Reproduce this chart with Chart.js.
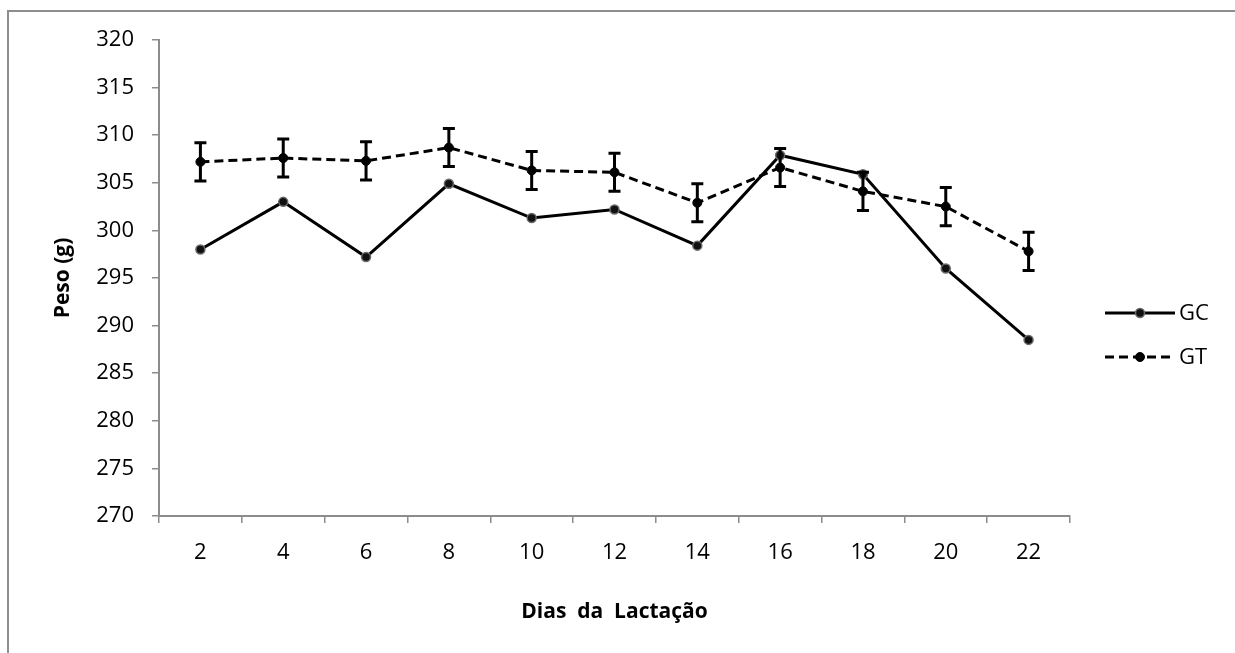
<!DOCTYPE html>
<html>
<head>
<meta charset="utf-8">
<script src="https://cdn.jsdelivr.net/npm/chart.js@4/dist/chart.umd.min.js"></script>
<style>
  html, body { margin: 0; padding: 0; background: #fff; }
  #wrap { width: 1235px; height: 653px; position: relative; }
</style>
</head>
<body>
<div id="wrap"><canvas id="chart" width="1235" height="653"></canvas></div>
<script>
// Dados do gráfico
const dias = ['2', '4', '6', '8', '10', '12', '14', '16', '18', '20', '22'];
const pesoGC = [298.0, 303.0, 297.2, 304.9, 301.3, 302.2, 298.4, 307.9, 305.9, 296.0, 288.5];
const pesoGT = [307.2, 307.6, 307.3, 308.7, 306.3, 306.1, 302.9, 306.6, 304.1, 302.5, 297.8];
const erroGT = [2.0, 2.0, 2.0, 2.0, 2.0, 2.0, 2.0, 2.0, 2.0, 2.0, 2.0];
const yTicks = [270, 275, 280, 285, 290, 295, 300, 305, 310, 315, 320];

const fonte = "'Open Sans', 'Noto Sans', sans-serif";
const cinzaEixo = '#8c8c8c';

// Moldura (só topo e esquerda aparecem no recorte)
const moldura = {
    id: 'moldura',
    beforeDraw(chart) {
        const ctx = chart.ctx;
        ctx.save();
        ctx.strokeStyle = '#8e8e8e';
        ctx.lineWidth = 2;
        ctx.beginPath();
        ctx.moveTo(8, 653);
        ctx.lineTo(8, 11);
        ctx.lineTo(1235, 11);
        ctx.stroke();
        ctx.restore();
    }
};

// Barras de erro do GT
const barrasErro = {
    id: 'barrasErro',
    afterDatasetsDraw(chart) {
        const meta = chart.getDatasetMeta(1);
        const y = chart.scales.y;
        const ctx = chart.ctx;
        ctx.save();
        ctx.strokeStyle = '#000';
        ctx.lineWidth = 3;
        meta.data.forEach((pt, i) => {
            const v = pesoGT[i];
            const top = y.getPixelForValue(v + erroGT[i]);
            const bot = y.getPixelForValue(v - erroGT[i]);
            ctx.beginPath();
            ctx.moveTo(pt.x, top);
            ctx.lineTo(pt.x, bot);
            ctx.moveTo(pt.x - 6, top);
            ctx.lineTo(pt.x + 6, top);
            ctx.moveTo(pt.x - 6, bot);
            ctx.lineTo(pt.x + 6, bot);
            ctx.stroke();
        });
        ctx.restore();
    }
};

// Legenda desenhada à direita
const legenda = {
    id: 'legenda',
    afterDraw(chart) {
        const ctx = chart.ctx;
        const area = chart.chartArea;
        const x0 = area.right + 35;
        const itens = chart.data.datasets;
        ctx.save();
        itens.forEach((ds, i) => {
            const yy = 313 + i * 44;
            ctx.strokeStyle = '#000';
            ctx.lineWidth = 3;
            ctx.setLineDash(ds.borderDash || []);
            ctx.beginPath();
            ctx.moveTo(x0, yy);
            ctx.lineTo(x0 + 70, yy);
            ctx.stroke();
            ctx.setLineDash([]);
            ctx.beginPath();
            ctx.arc(x0 + 35, yy, 4.5, 0, Math.PI * 2);
            ctx.fillStyle = ds.pointBackgroundColor;
            ctx.fill();
            ctx.lineWidth = ds.pointBorderWidth;
            ctx.strokeStyle = ds.pointBorderColor;
            ctx.stroke();
            ctx.fillStyle = '#000';
            ctx.font = '22px ' + fonte;
            ctx.textBaseline = 'middle';
            ctx.fillText(ds.label, x0 + 74, yy + 1);
        });
        ctx.restore();
    }
};

const ctx = document.getElementById('chart').getContext('2d');
new Chart(ctx, {
    type: 'line',
    data: {
        labels: dias,
        datasets: [{
            label: 'GC',
            data: pesoGC,
            borderColor: '#000',
            borderWidth: 3,
            pointRadius: 4.5,
            pointBackgroundColor: '#111',
            pointBorderColor: '#6a6a6a',
            pointBorderWidth: 1.5,
            tension: 0
        }, {
            label: 'GT',
            data: pesoGT,
            borderColor: '#000',
            borderWidth: 3,
            borderDash: [9, 5],
            pointRadius: 4.5,
            pointBackgroundColor: '#000',
            pointBorderColor: '#000',
            pointBorderWidth: 1,
            tension: 0
        }]
    },
    options: {
        responsive: false,
        animation: false,
        devicePixelRatio: 1,
        layout: { padding: { left: 0, top: 40, right: 165, bottom: 0 } },
        plugins: {
            legend: { display: false },
            tooltip: { enabled: false }
        },
        scales: {
            x: {
                offset: true,
                grid: {
                    offset: true,
                    drawOnChartArea: false,
                    drawTicks: true,
                    tickLength: 7,
                    color: cinzaEixo,
                    lineWidth: 1.5
                },
                border: { color: cinzaEixo, width: 2 },
                ticks: { color: '#000', font: { family: fonte, size: 22 }, padding: 17 },
                title: {
                    display: true,
                    text: 'Dias  da  Lactação',
                    color: '#000',
                    font: { family: fonte, size: 21, weight: 'bold' },
                    padding: { top: 28, bottom: 28 }
                },
                afterFit(scale) { scale.height = 137; }
            },
            y: {
                min: 270,
                max: 320,
                afterBuildTicks(scale) { scale.ticks = yTicks.map(v => ({ value: v })); },
                grid: {
                    drawOnChartArea: false,
                    drawTicks: true,
                    tickLength: 7,
                    color: cinzaEixo,
                    lineWidth: 1.5
                },
                border: { color: cinzaEixo, width: 2 },
                ticks: { color: '#000', font: { family: fonte, size: 22 }, padding: 18 },
                title: {
                    display: true,
                    text: 'Peso (g)',
                    color: '#000',
                    font: { family: fonte, size: 21, weight: 'bold' },
                    padding: { top: 50, bottom: 50 }
                },
                afterFit(scale) { scale.width = 159; }
            }
        }
    },
    plugins: [moldura, barrasErro, legenda]
});
</script>
</body>
</html>
